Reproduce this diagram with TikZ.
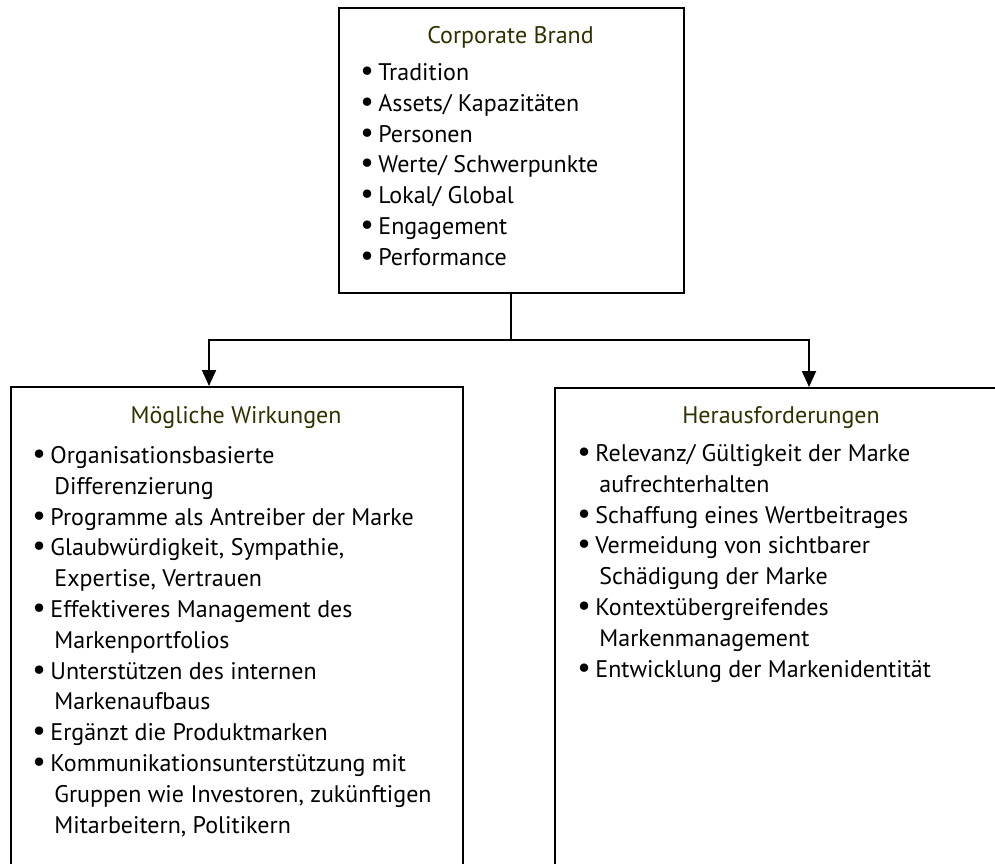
\documentclass[tikz,border=0pt]{standalone}
\usepackage{fontspec}
\setmainfont{PT Sans}
\usetikzlibrary{positioning, arrows.meta}

\definecolor{titelfarbe}{RGB}{48,48,0}
\newcommand{\bul}{\rule{0pt}{11pt}\makebox[9pt][l]{{\fontsize{15}{15}\selectfont\textbullet}}}
\newcommand{\ein}{\hspace*{11pt}}

\begin{document}
\begin{tikzpicture}[
        x=0.5pt, y=-0.5pt,
        >={Triangle[length=8pt, width=7pt]},
        rahmen/.style={draw, rectangle, line width=1pt, anchor=north west, inner sep=0pt},
        titel/.style={font=\fontsize{12}{15.4}\selectfont, text=titelfarbe, anchor=base, inner sep=0pt},
        liste/.style={font=\fontsize{12}{15.4}\selectfont, align=left, anchor=north west, inner sep=0pt},
        linie/.style={line width=0.9pt}
    ]
    \useasboundingbox (0,0) rectangle (995,863);

    % --- Oben: Corporate Brand ---
    \node[rahmen, minimum width=172.25pt, minimum height=142.5pt] (brand) at (338,7) {};
    \node[titel] (brandtitel) at (510.5,43) {Corporate Brand};
    \node[liste] (brandliste) at (360,58) {\bul Tradition\\
        \bul Assets/ Kapazitäten\\
        \bul Personen\\
        \bul Werte/ Schwerpunkte\\
        \bul Lokal/ Global\\
        \bul Engagement\\
        \bul Performance};

    % --- Links: Wirkungen ---
    \node[rahmen, minimum width=226pt, minimum height=250pt] (wirkung) at (10,386) {};
    \node[titel] (wirkungtitel) at (236,423) {Mögliche Wirkungen};
    \node[liste] (wirkungliste) at (32,441) {\bul Organisationsbasierte\\
        \ein Differenzierung\\
        \bul Programme als Antreiber der Marke\\
        \bul Glaubwürdigkeit, Sympathie,\\
        \ein Expertise, Vertrauen\\
        \bul Effektiveres Management des\\
        \ein Markenportfolios\\
        \bul Unterstützen des internen\\
        \ein Markenaufbaus\\
        \bul Ergänzt die Produktmarken\\
        \bul Kommunikationsunterstützung mit\\
        \ein Gruppen wie Investoren, zukünftigen\\
        \ein Mitarbeitern, Politikern};

    % --- Rechts: Herausforderungen ---
    \node[rahmen, minimum width=227pt, minimum height=250pt] (heraus) at (554,387) {};
    \node[titel] (heraustitel) at (781,423) {Herausforderungen};
    \node[liste] (herausliste) at (577,439) {\bul Relevanz/ Gültigkeit der Marke\\
        \ein aufrechterhalten\\
        \bul Schaffung eines Wertbeitrages\\
        \bul Vermeidung von sichtbarer\\
        \ein Schädigung der Marke\\
        \bul Kontextübergreifendes\\
        \ein Markenmanagement\\
        \bul Entwicklung der Markenidentität};

    % --- Verbindungen ---
    \coordinate (gabel) at ([yshift=-23pt]brand.south);
    \draw[linie] (brand.south) -- (gabel);
    \draw[linie, ->] (gabel) -| ([xshift=-14pt]wirkung.north);
    \draw[linie, ->] (gabel) -| ([xshift=13.5pt]heraus.north);

\end{tikzpicture}
\end{document}
